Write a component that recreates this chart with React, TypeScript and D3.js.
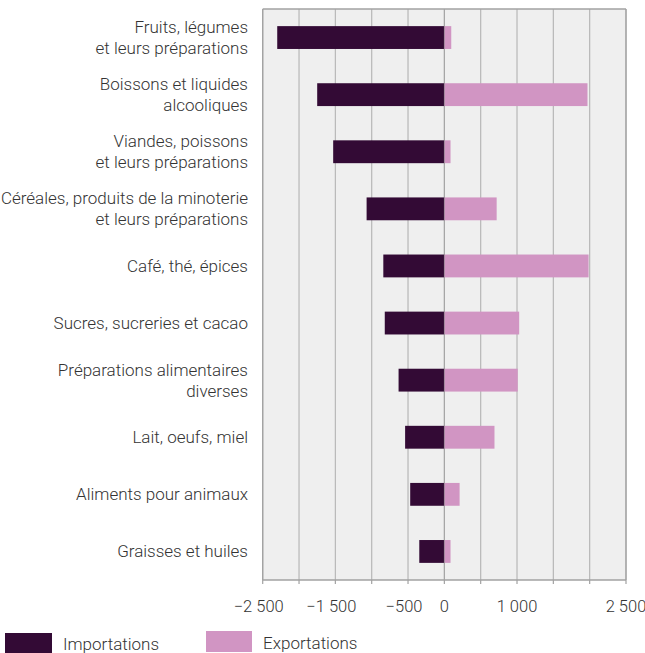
import React from "react";
import * as d3 from "d3";

const categories = [
  "Fruits, légumes\net leurs préparations",
  "Boissons et liquides\nalcooliques",
  "Viandes, poissons\net leurs préparations",
  "Céréales, produits de la minoterie\net leurs préparations",
  "Café, thé, épices",
  "Sucres, sucreries et cacao",
  "Préparations alimentaires\ndiverses",
  "Lait, oeufs, miel",
  "Aliments pour animaux",
  "Graisses et huiles",
];
const importations = [-2300, -1750, -1530, -1070, -840, -820, -630, -540, -470, -345];
const exportations = [95, 1970, 85, 720, 1985, 1030, 1010, 690, 210, 85];
const gridValues = [-2500, -2000, -1500, -1000, -500, 0, 500, 1000, 1500, 2000, 2500];
const labelValues = [-2500, -1500, -500, 0, 1000, 2500];
const seriesNames = ["Importations", "Exportations"];
const colors = ["#330a35", "#d195c3"];

const W = 645;
const H = 653;
const left = 262.7;
const right = 626;
const top = 9;
const bottom = 580;
const FONT = "Roboto, 'Noto Sans', sans-serif";

const fmt = d3.formatLocale({
  decimal: ",",
  thousands: " ",
  grouping: [3],
  currency: ["", " €"],
  minus: "\u2212",
}).format(",d");

export default function App() {
  const x = d3.scaleLinear().domain([-2500, 2500]).range([left, right]);
  const y = d3
    .scaleBand<string>()
    .domain(categories)
    .range([top, bottom])
    .paddingInner(0.6)
    .paddingOuter(0.3);
  const bw = y.bandwidth();

  return (
    <svg
      width={W}
      height={H}
      style={{ position: "absolute", left: 0, top: 0, fontFamily: FONT }}
    >
      <rect x={left} y={top} width={right - left} height={bottom - top} fill="#efefef" />
      {gridValues.map((v) => (
        <line
          key={"g" + v}
          x1={x(v)}
          x2={x(v)}
          y1={top}
          y2={bottom}
          stroke="#b7b7b7"
          strokeWidth={1.2}
        />
      ))}
      {categories.map((c, i) => (
        <g key={"b" + i}>
          <rect
            x={x(importations[i])}
            y={y(c)}
            width={x(0) - x(importations[i])}
            height={bw}
            fill={colors[0]}
          />
          <rect
            x={x(0)}
            y={y(c)}
            width={x(exportations[i]) - x(0)}
            height={bw}
            fill={colors[1]}
          />
        </g>
      ))}
      <line x1={x(0)} x2={x(0)} y1={top} y2={bottom} stroke="#8a8a8a" strokeWidth={0.8} opacity={0.6} />
      <line x1={left} x2={right} y1={top} y2={top} stroke="#a2a2a2" strokeWidth={1.3} />
      <line x1={left} x2={left} y1={top} y2={bottom} stroke="#a2a2a2" strokeWidth={1.3} />
      <line x1={right} x2={right} y1={top} y2={bottom} stroke="#a2a2a2" strokeWidth={1.3} />
      <line x1={left} x2={right} y1={bottom} y2={bottom} stroke="#a2a2a2" strokeWidth={1.3} />
      {gridValues.map((v) => (
        <line
          key={"t" + v}
          x1={x(v)}
          x2={x(v)}
          y1={bottom}
          y2={bottom + 4}
          stroke="#a2a2a2"
          strokeWidth={1.2}
        />
      ))}
      {labelValues.map((v) => (
        <text
          key={"l" + v}
          x={x(v) - (v < 0 ? 4 : 0)}
          y={612}
          textAnchor="middle"
          fontSize={16.5}
          fontWeight={300}
          fill="#333"
        >
          {fmt(v)}
        </text>
      ))}
      {categories.map((c, i) => {
        const lines = c.split("\n");
        const cy = (y(c) as number) + bw / 2;
        const lh = 21;
        const first = cy + 6 - ((lines.length - 1) * lh) / 2;
        return (
          <text
            key={"c" + i}
            x={248}
            textAnchor="end"
            fontSize={17}
            fontWeight={300}
            fill="#333"
          >
            {lines.map((ln, k) => (
              <tspan key={k} x={248} y={first + k * lh}>
                {ln}
              </tspan>
            ))}
          </text>
        );
      })}
      <rect x={5} y={633} width={47} height={20} fill={colors[0]} />
      <text x={63} y={650} fontSize={17} fontWeight={300} fill="#333">
        {seriesNames[0]}
      </text>
      <rect x={206} y={631} width={46} height={21} fill={colors[1]} />
      <text x={263} y={649} fontSize={17} fontWeight={300} fill="#333">
        {seriesNames[1]}
      </text>
    </svg>
  );
}
